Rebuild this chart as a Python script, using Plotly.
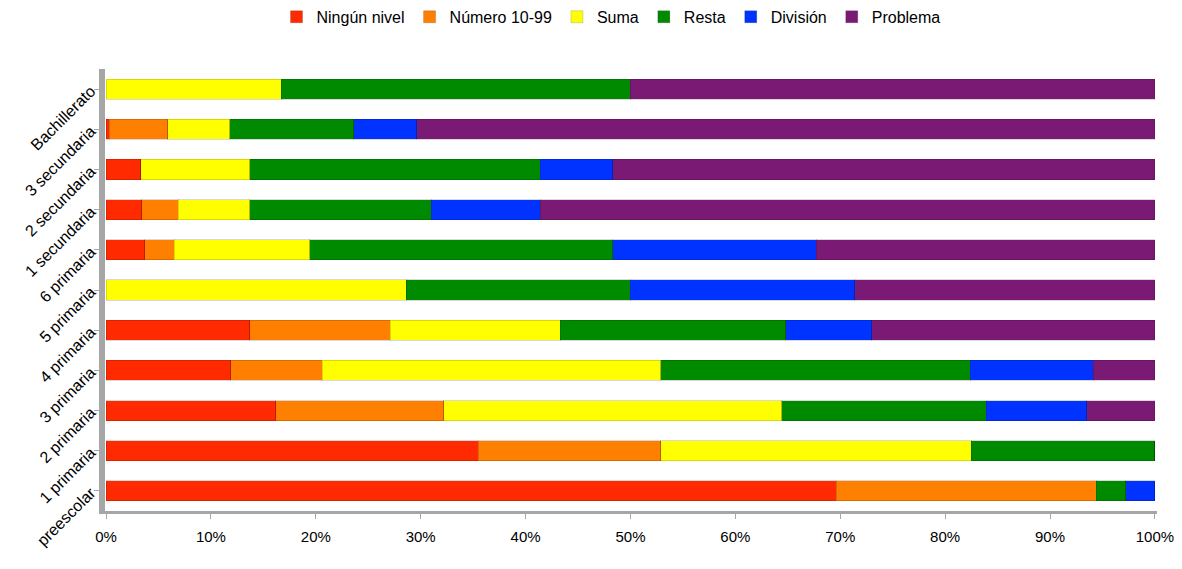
import plotly.graph_objects as go

FONT_FAMILY = "Liberation Sans, Arial, sans-serif"

# Categories bottom -> top
niveles = ["preescolar", "1 primaria", "2 primaria", "3 primaria", "4 primaria",
           "5 primaria", "6 primaria", "1 secundaria", "2 secundaria",
           "3 secundaria", "Bachillerato"]

# Percentages per series
ningun_nivel = [69.6, 35.5, 16.2, 11.9, 13.7, 0.0, 3.7, 3.4, 3.3, 0.3, 0.0]
numero_10_99 = [24.8, 17.4, 16.0, 8.7, 13.4, 0.0, 2.8, 3.5, 0.0, 5.6, 0.0]
suma = [0.0, 29.6, 32.2, 32.3, 16.2, 28.6, 12.9, 6.8, 10.4, 5.9, 16.7]
resta = [2.8, 17.5, 19.5, 29.5, 21.5, 21.4, 28.9, 17.3, 27.7, 11.8, 33.3]
division = [2.8, 0.0, 9.6, 11.7, 8.2, 21.4, 19.4, 10.4, 6.9, 6.0, 0.0]
problema = [0.0, 0.0, 6.5, 5.9, 27.0, 28.6, 32.3, 58.6, 51.7, 70.4, 50.0]

series = [
    ("Ningún nivel", ningun_nivel, "#FF2A00"),
    ("Número 10-99", numero_10_99, "#FF7F00"),
    ("Suma", suma, "#FFFF00"),
    ("Resta", resta, "#008A00"),
    ("División", division, "#0033FF"),
    ("Problema", problema, "#7A1A74"),
]

fig = go.Figure()
for name, vals, color in series:
    fig.add_trace(go.Bar(
        y=niveles, x=vals, name=name, orientation="h",
        marker=dict(color=color, line=dict(color="rgba(0,0,0,0.15)", width=1)),
        hovertemplate="%{y}<br>" + name + ": %{x:.1f}%<extra></extra>",
    ))

# page body has an 8px margin, so the figure is sized to fit inside it
fig.update_layout(
    barmode="stack",
    barnorm="percent",
    bargap=0.5,
    width=1166, height=553,
    margin=dict(t=61, b=50, l=97, r=17),
    paper_bgcolor="white",
    plot_bgcolor="white",
    font=dict(family=FONT_FAMILY, size=14, color="#000000"),
    legend=dict(
        orientation="h",
        traceorder="normal",
        x=0.481, xanchor="center",
        y=0.984, yref="container", yanchor="middle",
        font=dict(size=16),
        itemwidth=30,
        tracegroupgap=0,
    ),
    showlegend=True,
)

fig.update_xaxes(
    range=[-0.1, 100.2],
    tickvals=[0, 10, 20, 30, 40, 50, 60, 70, 80, 90, 100],
    ticktext=["0%", "10%", "20%", "30%", "40%", "50%", "60%", "70%", "80%", "90%", "100%"],
    showgrid=False, zeroline=False,
    showline=True, linecolor="#A6A6A6", linewidth=3,
    ticks="outside", ticklen=5, tickcolor="#A6A6A6",
    tickfont=dict(size=15),
    ticklabeloverflow="allow",
    ticklabelstandoff=5,
    automargin=False,
)
fig.update_yaxes(
    showgrid=False, zeroline=False,
    showline=True, linecolor="#A6A6A6", linewidth=6,
    ticks="outside", ticklen=5, tickcolor="#A6A6A6",
    tickangle=-45,
    tickfont=dict(size=16),
    automargin=False,
)

fig.write_html("out.html")
